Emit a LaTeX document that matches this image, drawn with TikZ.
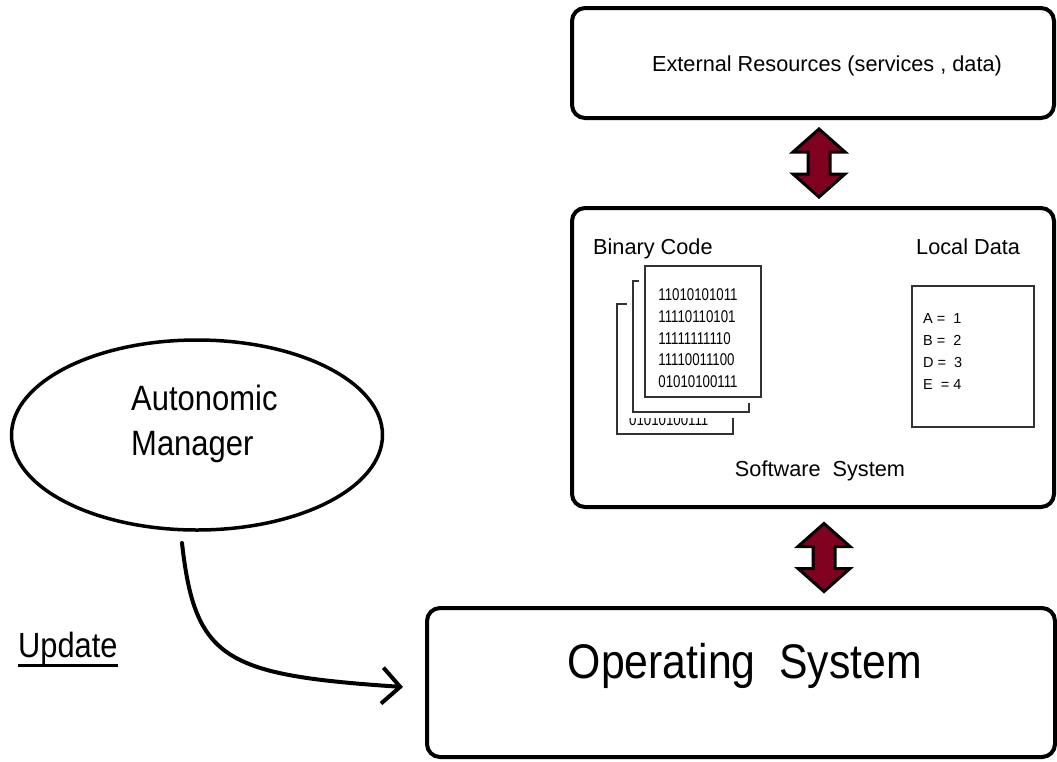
\documentclass[tikz,border=0pt]{standalone}
\usepackage{fontspec}
\setmainfont{Liberation Sans}
\newfontfamily\digitfont[FakeStretch=0.78]{Liberation Sans}
\newfontfamily\tallfont[FakeStretch=0.88]{Liberation Sans}
\usetikzlibrary{shapes.geometric,arrows.meta}
\definecolor{arrowred}{RGB}{128,0,32}
\definecolor{pagegray}{RGB}{50,50,50}
\begin{document}
\begin{tikzpicture}[x=1pt,y=-1pt,
  sysbox/.style={draw=black,line width=4pt,rounded corners=13pt,fill=white,inner sep=0pt},
  pagebox/.style={draw=pagegray,line width=1.4pt,fill=white},
  pagegap/.style={draw=white,line width=12pt,fill=white},
  databox/.style={draw=pagegray,line width=1.4pt,fill=white,inner sep=0pt},
  dblarrow/.style={draw=black,line width=3pt,fill=arrowred,line join=miter},
  lbl/.style={inner sep=0pt,font=\fontsize{21.7}{26}\selectfont},
  bits/.style={inner sep=0pt,align=left,font=\digitfont\fontsize{17}{21.7}\selectfont},
  flow/.style={line width=4pt,line cap=round,-{Straight Barb[length=18pt,width=36pt]}}]
\useasboundingbox (0,0) rectangle (1057,761);

% the three system layers
\node[sysbox,minimum width=482pt,minimum height=110pt] (ext) at (813,63) {};
\node[sysbox,minimum width=482pt,minimum height=299pt] (sw) at (813,357.5) {};
\node[sysbox,minimum width=628pt,minimum height=149pt] (os) at (741,682.5) {};

\node[lbl,anchor=base] (exttext) at (827,71) {External Resources (services , data)};
\node[lbl,anchor=base] (swtext) at (820,476) {Software\ \ System};
\node[inner sep=0pt,anchor=base,font=\tallfont\fontsize{48.6}{56}\selectfont] (ostext) at (745,678) {Operating\ \ System};

% two-way links between layers
\coordinate (link1) at (819,163);
\coordinate (link2) at (824,557.5);
\foreach \c in {link1,link2}{
  \draw[dblarrow] (\c) ++(0,-34) -- ++(26,23) -- ++(-15,0) -- ++(0,22) -- ++(15,0)
    -- ++(-26,23) -- ++(-26,-23) -- ++(15,0) -- ++(0,-22) -- ++(-15,0) -- cycle;
}

% binary code pages
\node[lbl,anchor=base west] (bintitle) at (593,254) {Binary Code};
\draw[pagebox] (617,304) rectangle (733,434);
\node[inner sep=0pt,anchor=base west,font=\digitfont\fontsize{17}{21.7}\selectfont] (page3text) at (629,425) {01010100111};
\draw[pagegap] (633,281) rectangle (749,412);
\draw[pagebox] (633,281) rectangle (749,412);
\draw[pagegap] (645,266) rectangle (761,397);
\draw[pagebox] (645,266) rectangle (761,397);
\node[bits] (bincode) at (698,338.3) {11010101011\\11110110101\\11111111110\\11110011100\\01010100111};

% local data sheet
\node[lbl,anchor=base west] (datatitle) at (916,254) {Local Data};
\node[databox,minimum width=122pt,minimum height=141pt] (data) at (973,356.5) {};
\node[inner sep=0pt,anchor=west,align=left,font=\fontsize{14.5}{21.7}\selectfont] (datavals) at (923,351.5)
  {A =\ \ 1\\B =\ \ 2\\D =\ \ 3\\E\ \ = 4};

% autonomic manager
\node[draw=black,line width=3.5pt,ellipse,minimum width=371pt,minimum height=190pt,inner sep=0pt] (am) at (197,435) {};
\node[inner sep=0pt,anchor=west,align=left,font=\tallfont\fontsize{35.2}{45}\selectfont] (amtext) at (131,424) {Autonomic\\Manager};

% update flow into the operating system
\coordinate (updstart) at (182,543);
\coordinate (updend) at (403,687);
\draw[flow] (updstart) .. controls (195,660) and (225,675) .. (updend);
\node[inner sep=0pt,anchor=base west,font=\tallfont\fontsize{35}{40}\selectfont] (upd) at (18,657) {Update};
\draw[line width=3pt] ([yshift=-8pt]upd.base west) -- ([yshift=-8pt]upd.base east);
\end{tikzpicture}
\end{document}
